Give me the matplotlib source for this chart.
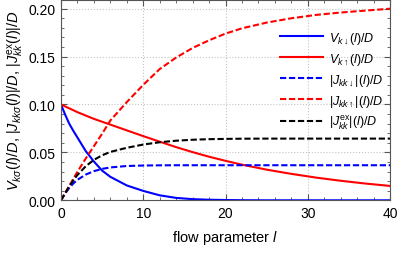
import matplotlib
matplotlib.use("Agg")
import matplotlib.pyplot as plt
from matplotlib.ticker import MultipleLocator, FormatStrFormatter

plt.rcParams['font.family'] = 'Liberation Sans'
plt.rcParams['mathtext.fontset'] = 'custom'
plt.rcParams['mathtext.rm'] = 'Liberation Sans'
plt.rcParams['mathtext.it'] = 'Liberation Sans:italic'
plt.rcParams['mathtext.bf'] = 'Liberation Sans:bold'

# flow parameter l
l = [0, 0.5, 1, 1.5, 2, 3, 4, 5, 6, 8, 10, 12, 14, 16, 18, 20, 22, 25, 28, 31, 34, 37, 40]

# V_k down / up
v_down = [0.1, 0.0895, 0.080, 0.0725, 0.0655, 0.0515, 0.0405, 0.031, 0.0245, 0.0155, 0.0098,
          0.0052, 0.0025, 0.0012, 0.0006, 0.0003, 0.0001, 0.0, 0.0, 0.0, 0.0, 0.0, 0.0]
v_up = [0.1, 0.098, 0.096, 0.094, 0.092, 0.0885, 0.085, 0.082, 0.079, 0.073, 0.067,
        0.0612, 0.0555, 0.0503, 0.0455, 0.0412, 0.0372, 0.032, 0.0276, 0.0237, 0.0204, 0.0175, 0.015]

# |J_kk down|, |J_kk up|, |J_kk ex|
j_down = [0, 0.007, 0.0128, 0.0176, 0.0214, 0.0268, 0.0304, 0.0328, 0.0343, 0.0358, 0.0363,
          0.0365, 0.0366, 0.0366, 0.0366, 0.0366, 0.0366, 0.0366, 0.0366, 0.0366, 0.0366, 0.0366, 0.0366]
j_up = [0, 0.0075, 0.015, 0.0225, 0.0298, 0.0435, 0.0565, 0.0695, 0.0833, 0.1025, 0.1205,
        0.137, 0.149, 0.159, 0.167, 0.174, 0.1795, 0.1855, 0.190, 0.1935, 0.196, 0.198, 0.2]
j_ex = [0, 0.0075, 0.0145, 0.0208, 0.0265, 0.0355, 0.0422, 0.047, 0.0505, 0.0548, 0.0582,
        0.0606, 0.0622, 0.0632, 0.0638, 0.0641, 0.0643, 0.0644, 0.0644, 0.0644, 0.0644, 0.0644, 0.0644]

labels = [r'$V_{k\downarrow}(l)/D$', r'$V_{k\uparrow}(l)/D$',
          r'$|J_{kk\downarrow}|(l)/D$', r'$|J_{kk\uparrow}|(l)/D$',
          r'$|J^{\rm ex}_{kk}|(l)/D$']

fig = plt.figure(figsize=(3.99, 2.55), dpi=100)
ax = fig.add_axes([61/399, 1 - 201.3/255, 329/399, 200.8/255])

lw = 1.5
dash = (3, 1.3)
ax.plot(l, v_down, color='#0000ff', lw=lw, label=labels[0])
ax.plot(l, v_up, color='#ff0000', lw=lw, label=labels[1])
ax.plot(l, j_down, color='#0000ff', lw=lw, dashes=dash, label=labels[2])
ax.plot(l, j_up, color='#ff0000', lw=lw, dashes=dash, label=labels[3])
ax.plot(l, j_ex, color='black', lw=lw, dashes=dash, label=labels[4])

ax.set_xlim(0, 40)
ax.set_ylim(0, 0.2096)
ax.xaxis.set_major_locator(MultipleLocator(10))
ax.xaxis.set_minor_locator(MultipleLocator(2))
ax.yaxis.set_major_locator(MultipleLocator(0.05))
ax.yaxis.set_minor_locator(MultipleLocator(0.01))
ax.yaxis.set_major_formatter(FormatStrFormatter('%.2f'))
ax.tick_params(which='both', direction='in', top=True, right=True, colors='#555555',
               labelcolor='black', labelsize=10)
ax.tick_params(which='major', length=4, pad=4)
ax.tick_params(which='minor', length=2)
for s in ax.spines.values():
    s.set_color('#555555')
ax.grid(True, which='major', ls=':', color='#c4c4c4', lw=0.8)

ax.set_xlabel(r'flow parameter $l$', fontsize=10.5, labelpad=6)
ax.set_ylabel(r'$V_{k\sigma}(l)/D$, $|J_{kk\sigma}(l)|/D$, $|J^{\rm ex}_{kk}(l)|/D$',
              fontsize=10.5, labelpad=2)

ax.legend(loc='upper left', bbox_to_anchor=(0.666, 0.85), frameon=False, fontsize=9,
          handlelength=3.4, handletextpad=0.55, labelspacing=0.4,
          borderpad=0, borderaxespad=0)

fig.savefig('out.png', dpi=100)
